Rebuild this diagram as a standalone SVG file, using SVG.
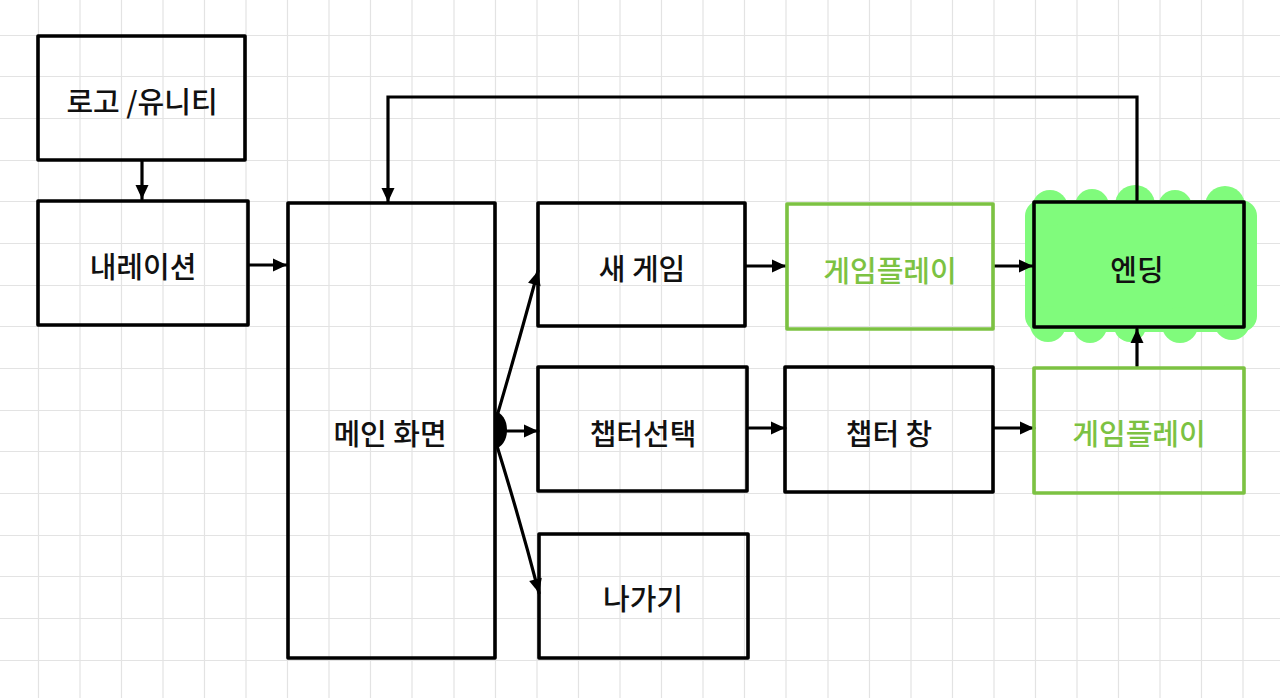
<svg xmlns="http://www.w3.org/2000/svg" width="1280" height="698" viewBox="0 0 1280 698">
<defs>
<style>
.grid{stroke:#e3e3e3;stroke-width:1.2;fill:none}
.box{fill:none;stroke:#000;stroke-width:3.6;stroke-linejoin:round}
.gbox{fill:none;stroke:#7cc242;stroke-width:3.6;stroke-linejoin:round}
.lbl{font-family:"Noto Sans CJK KR","Noto Sans",sans-serif;font-size:29px;font-weight:500;fill:#111;text-anchor:middle;dominant-baseline:central}
.glbl{fill:#7cc242}
.conn{fill:none;stroke:#000;stroke-width:3.2;stroke-linecap:round}
</style>
<marker id="arr" markerUnits="userSpaceOnUse" markerWidth="16" markerHeight="16" viewBox="0 0 16 16" refX="15" refY="8" orient="auto">
<path d="M1,1.5 L15,8 L1,14.5 Z" fill="#000"/>
</marker>
</defs>
<rect width="1280" height="698" fill="#fff"/>
<path class="grid" d="M38.5,0V698M80,0V698M121.5,0V698M163,0V698M204.5,0V698M246,0V698M287.5,0V698M329,0V698M370.5,0V698M412,0V698M454,0V698M495.5,0V698M537,0V698M578.5,0V698M620,0V698M661.5,0V698M703,0V698M744.5,0V698M786,0V698M828,0V698M869.5,0V698M911,0V698M952.5,0V698M994,0V698M1035.5,0V698M1077,0V698M1118.5,0V698M1160,0V698M1201.5,0V698M1243,0V698
M0,35.5H1280M0,76.5H1280M0,118.5H1280M0,160.5H1280M0,201.5H1280M0,243.5H1280M0,285.5H1280M0,326.5H1280M0,368.5H1280M0,410.5H1280M0,451.5H1280M0,493.5H1280M0,535.5H1280M0,576.5H1280M0,618.5H1280M0,660.5H1280"/>

<g id="ending-highlight" fill="#80fb7c">
<rect x="1025" y="200" width="232" height="132" rx="16"/>
<circle cx="1050" cy="208" r="18"/><circle cx="1092" cy="206" r="17"/><circle cx="1135" cy="205" r="20"/><circle cx="1175" cy="207" r="17"/><circle cx="1225" cy="206" r="20"/>
<circle cx="1048" cy="324" r="18"/><circle cx="1090" cy="326" r="17"/><circle cx="1130" cy="326" r="16"/><circle cx="1180" cy="325" r="18"/><circle cx="1232" cy="322" r="18"/>
</g>

<g id="connectors">
<path class="conn" d="M142,161 V199" marker-end="url(#arr)"/>
<path class="conn" d="M249,265 H287" marker-end="url(#arr)"/>
<path class="conn" d="M1137,200 V97 H388 V202" marker-end="url(#arr)"/>
<path class="conn" d="M497,416 Q515,355 538,271" marker-end="url(#arr)"/>
<path class="conn" d="M507,431 H538" marker-end="url(#arr)"/>
<path class="conn" d="M497,446 Q520,520 539,593" marker-end="url(#arr)"/>
<path d="M495,412 A12,18 0 0 1 495,448 Z" fill="#000"/>
<path class="conn" d="M746,266 H786" marker-end="url(#arr)"/>
<path class="conn" d="M994,266 H1033" marker-end="url(#arr)"/>
<path class="conn" d="M749,428 H785" marker-end="url(#arr)"/>
<path class="conn" d="M994,428 H1034" marker-end="url(#arr)"/>
<path class="conn" d="M1137,366 V329" marker-end="url(#arr)"/>
</g>

<g id="logo"><rect class="box" x="38" y="36" width="207" height="124"/><text class="lbl" x="142" y="100">로고 /유니티</text></g>
<g id="narration"><rect class="box" x="38" y="201" width="210" height="124"/><text class="lbl" x="143" y="265">내레이션</text></g>
<g id="main"><rect class="box" x="288" y="203" width="207" height="455"/><text class="lbl" x="390" y="432">메인 화면</text></g>
<g id="newgame"><rect class="box" x="538" y="203" width="207" height="123"/><text class="lbl" x="642" y="267">새 게임</text></g>
<g id="gameplay1"><rect class="gbox" x="787" y="204" width="206" height="125"/><text class="lbl glbl" x="890" y="269">게임플레이</text></g>
<g id="ending"><rect class="box" x="1034" y="202" width="210" height="125" fill="#80fb7c"/><text class="lbl" x="1137" y="268">엔딩</text></g>
<g id="chapterselect"><rect class="box" x="538" y="367" width="209" height="124"/><text class="lbl" x="643" y="432">챕터선택</text></g>
<g id="chapterwin"><rect class="box" x="785" y="367" width="208" height="125"/><text class="lbl" x="889" y="432">챕터 창</text></g>
<g id="gameplay2"><rect class="gbox" x="1034" y="368" width="210" height="125"/><text class="lbl glbl" x="1139" y="432">게임플레이</text></g>
<g id="exit"><rect class="box" x="539" y="534" width="209" height="124"/><text class="lbl" x="643" y="597">나가기</text></g>
</svg>
